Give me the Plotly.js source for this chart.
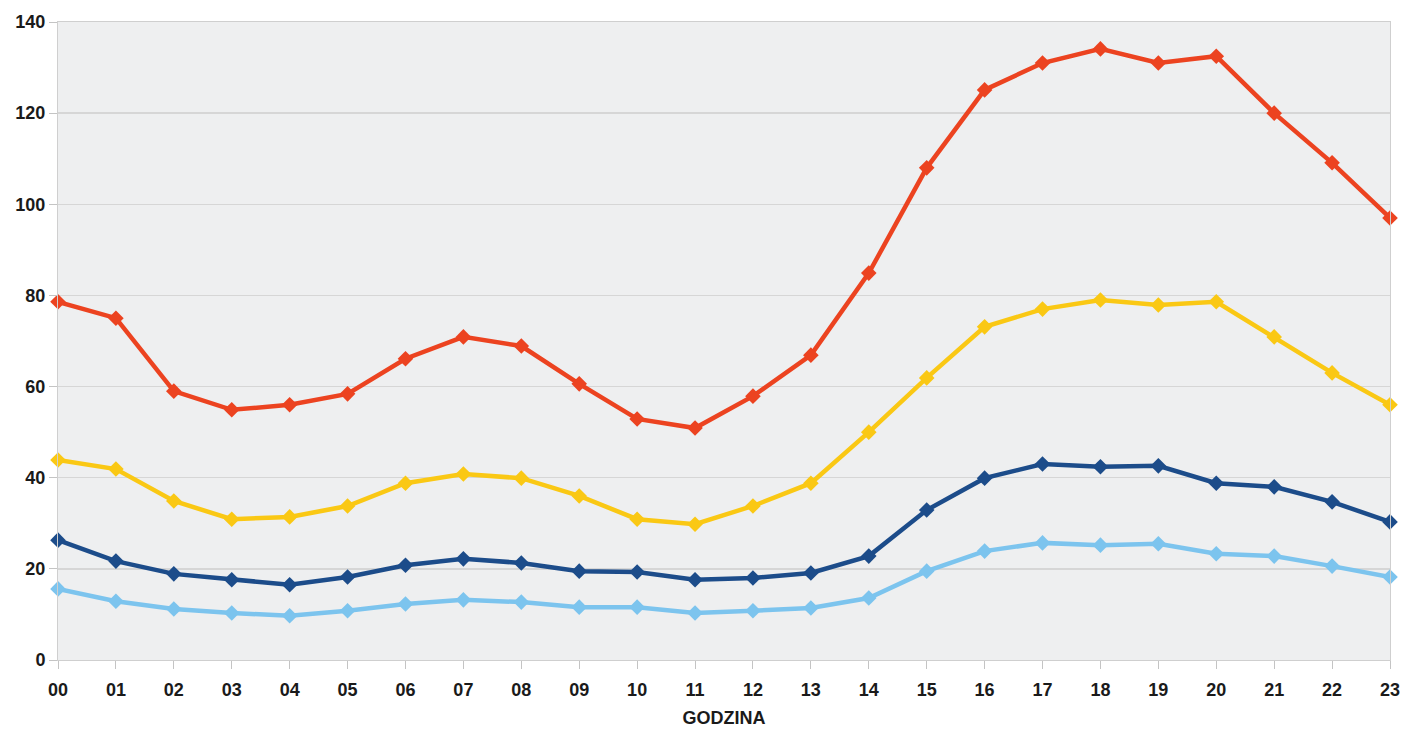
<!DOCTYPE html>
<html>
<head>
<meta charset="utf-8">
<script src="https://cdn.plot.ly/plotly-3.0.1.min.js"></script>
<style>html,body{margin:0;padding:0;background:#fff;}#chart{width:1410px;height:729px;}</style>
</head>
<body>
<div id="chart"></div>
<script>
const hours = ["00","01","02","03","04","05","06","07","08","09","10","11","12","13","14","15","16","17","18","19","20","21","22","23"];
const seriesRed = [78.6,75.0,59.0,54.9,56.0,58.4,66.1,70.9,68.9,60.6,52.9,50.9,57.9,66.9,84.9,108.0,125.1,131.0,134.1,131.0,132.5,120.0,109.1,97.0];
const seriesYellow = [43.9,41.9,34.9,30.9,31.4,33.8,38.8,40.8,39.9,36.0,30.9,29.8,33.8,38.8,50.0,61.9,73.1,77.0,79.0,77.9,78.6,70.9,63.0,56.0];
const seriesDarkBlue = [26.3,21.7,18.9,17.6,16.5,18.2,20.8,22.2,21.3,19.5,19.3,17.6,18.0,19.1,22.8,32.9,39.9,43.0,42.4,42.6,38.8,38.0,34.7,30.3];
const seriesLightBlue = [15.6,12.9,11.2,10.3,9.7,10.8,12.3,13.2,12.7,11.6,11.6,10.3,10.8,11.4,13.6,19.5,23.9,25.7,25.2,25.5,23.3,22.8,20.6,18.2];
const yTicks = [0,20,40,60,80,100,120,140];
const xTitle = "GODZINA";

function mk(y, color) {
  return {
    x: hours, y: y, type: "scatter", mode: "lines+markers",
    line: {color: color, width: 4.5},
    marker: {symbol: "diamond", size: 12, color: color},
    cliponaxis: false, showlegend: false, hoverinfo: "x+y"
  };
}
const data = [mk(seriesLightBlue, "#7cc4ee"), mk(seriesDarkBlue, "#1c4c8a"), mk(seriesYellow, "#fac814"), mk(seriesRed, "#ec4320")];
const tickFont = {family: "Liberation Sans, Arial, sans-serif", size: 18, color: "#1a1a1a", weight: "bold"};
const layout = {
  width: 1410, height: 729,
  margin: {l: 58, r: 20, t: 22, b: 69},
  paper_bgcolor: "#ffffff", plot_bgcolor: "#eeeff0",
  xaxis: {
    type: "category", range: [0, 23],
    showgrid: false, ticks: "outside", ticklen: 8, tickcolor: "#c4c4c4",
    ticklabelstandoff: 5,
    showline: true, linecolor: "#cfcfcf", linewidth: 1, mirror: true,
    tickfont: tickFont,
    title: {text: "<b>" + xTitle + "</b>", font: {family: "Liberation Sans, Arial, sans-serif", size: 18, color: "#1a1a1a"}, standoff: 12}
  },
  yaxis: {
    range: [0, 140], tickvals: yTicks,
    showgrid: true, gridcolor: "#d6d6d6", gridwidth: 1.5,
    zeroline: false, ticks: "outside", ticklen: 8, tickcolor: "#c4c4c4",
    showline: true, linecolor: "#cfcfcf", linewidth: 1, mirror: true,
    tickfont: tickFont
  }
};
Plotly.newPlot("chart", data, layout, {displayModeBar: false, staticPlot: true});
</script>
</body>
</html>
